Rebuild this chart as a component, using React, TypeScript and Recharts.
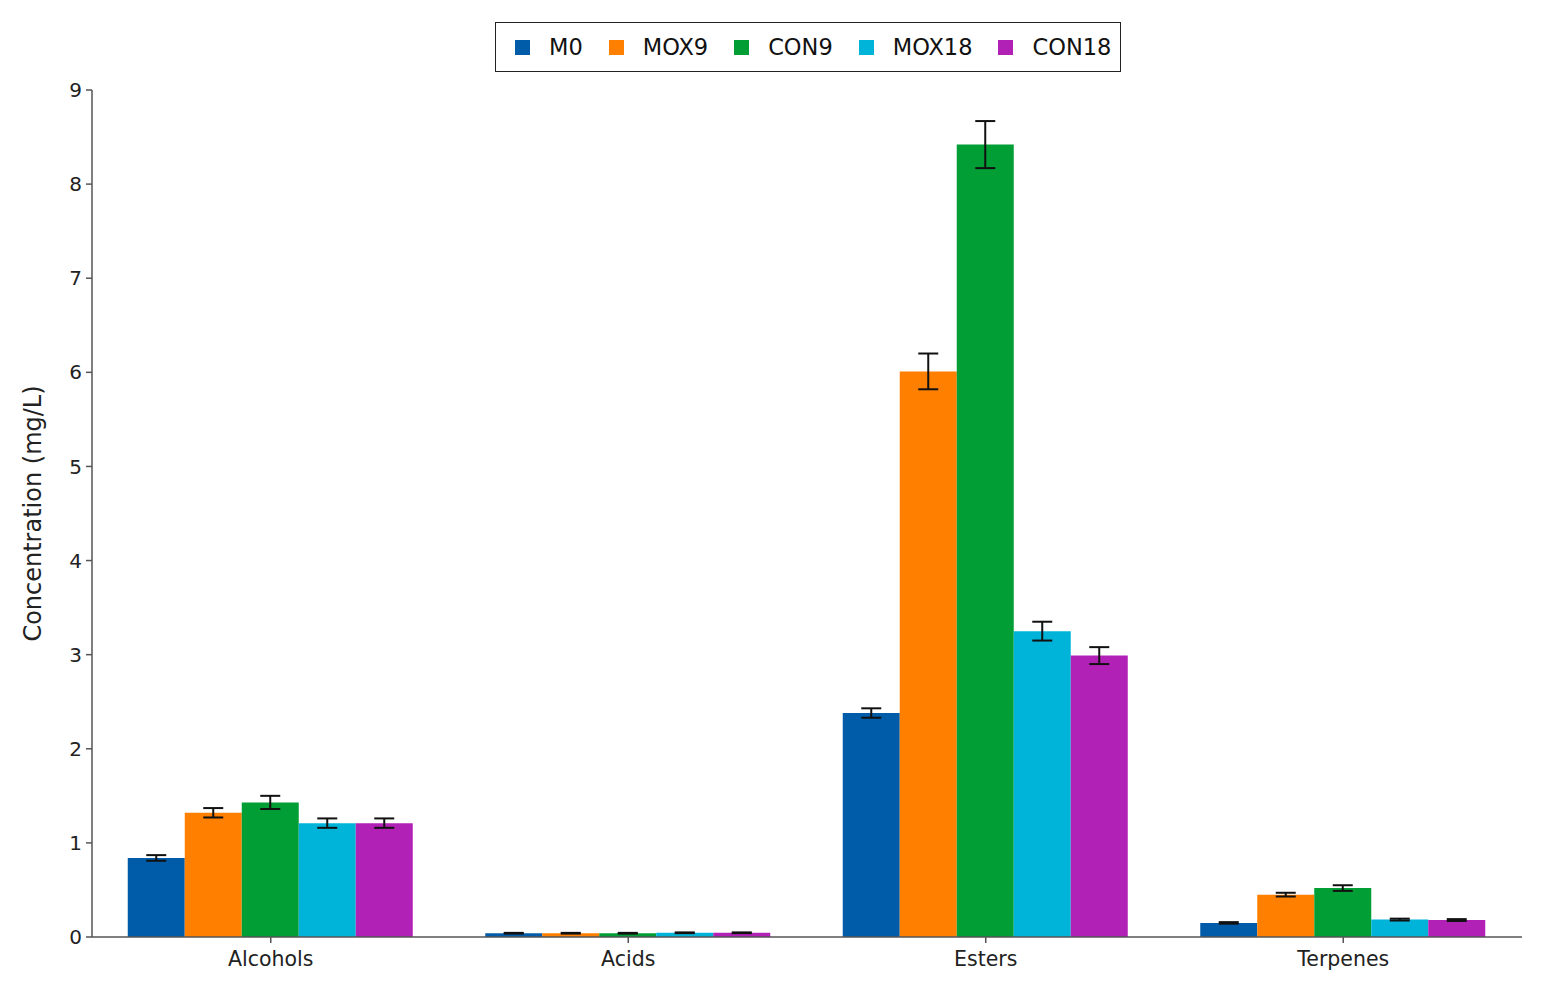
import React from "react";
import { BarChart, Bar, XAxis, YAxis, Legend, ErrorBar } from "recharts";

const categories = ["Alcohols", "Acids", "Esters", "Terpenes"];

const seriesNames = ["M0", "MOX9", "CON9", "MOX18", "CON18"];
const seriesColors = ["#005ca9", "#ff7f00", "#009e34", "#00b4d9", "#b221b5"];

// means (mg/L)
const m0 = [0.84, 0.04, 2.38, 0.15];
const mox9 = [1.32, 0.04, 6.01, 0.45];
const con9 = [1.43, 0.04, 8.42, 0.52];
const mox18 = [1.21, 0.045, 3.25, 0.185];
const con18 = [1.21, 0.045, 2.99, 0.18];

// standard deviations
const m0Err = [0.03, 0.004, 0.05, 0.008];
const mox9Err = [0.05, 0.004, 0.19, 0.02];
const con9Err = [0.07, 0.004, 0.25, 0.03];
const mox18Err = [0.05, 0.004, 0.1, 0.01];
const con18Err = [0.05, 0.004, 0.09, 0.01];

const yTicks = [0, 1, 2, 3, 4, 5, 6, 7, 8, 9];

const means = [m0, mox9, con9, mox18, con18];
const errs = [m0Err, mox9Err, con9Err, mox18Err, con18Err];

const data = categories.map((c, i) => {
  const row: Record<string, number | string> = { name: c };
  seriesNames.forEach((s, k) => {
    row[s] = means[k][i];
    row[s + "_err"] = errs[k][i];
  });
  return row;
});

const font = "DejaVu Sans, Verdana, sans-serif";

const LegendBox = () => (
  <div
    style={{
      display: "flex",
      alignItems: "center",
      border: "1.5px solid #222",
      height: 50,
      boxSizing: "border-box",
      paddingLeft: 19,
      fontFamily: font,
      fontSize: 22.5,
      color: "#111",
      background: "#fff",
    }}
  >
    {seriesNames.map((s, k) => (
      <div key={s} style={{ display: "flex", alignItems: "center", marginRight: 26 }}>
        <span
          style={{
            width: 15,
            height: 15,
            background: seriesColors[k],
            display: "inline-block",
            marginRight: 19,
          }}
        />
        <span>{s}</span>
      </div>
    ))}
  </div>
);

export default function App() {
  return (
    <div style={{ position: "absolute", left: 0, top: 0, width: 1547, height: 1002, background: "#fff" }}>
      <BarChart
        width={1547}
        height={1002}
        data={data}
        margin={{ top: 40, right: 25, bottom: 25, left: 32 }}
        barCategoryGap="10%"
        barGap={0}
      >
        <XAxis
          dataKey="name"
          tick={{ fontSize: 20.5, fill: "#222", fontFamily: font }}
          tickLine={{ stroke: "#555", strokeWidth: 1.5 }}
          axisLine={{ stroke: "#555", strokeWidth: 1.5 }}
          tickSize={6}
          tickMargin={8}
          height={40}
        />
        <YAxis
          domain={[0, 9]}
          ticks={yTicks}
          interval={0}
          width={60}
          tick={{ fontSize: 20, fill: "#222", fontFamily: font }}
          tickLine={{ stroke: "#555", strokeWidth: 1.5 }}
          axisLine={{ stroke: "#555", strokeWidth: 1.5 }}
          tickSize={6}
          tickMargin={4}
          label={{
            value: "Concentration (mg/L)",
            angle: -90,
            position: "insideLeft",
            dx: -5,
            style: { textAnchor: "middle", fontSize: 24, fill: "#222", fontFamily: font },
          }}
        />
        <Legend
          verticalAlign="top"
          content={<LegendBox />}
          wrapperStyle={{ top: 22, left: 495, width: 626 }}
        />
        {seriesNames.map((s, k) => (
          <Bar key={s} dataKey={s} fill={seriesColors[k]} isAnimationActive={false}>
            <ErrorBar dataKey={s + "_err"} width={10} stroke="#111" strokeWidth={2} />
          </Bar>
        ))}
      </BarChart>
    </div>
  );
}
